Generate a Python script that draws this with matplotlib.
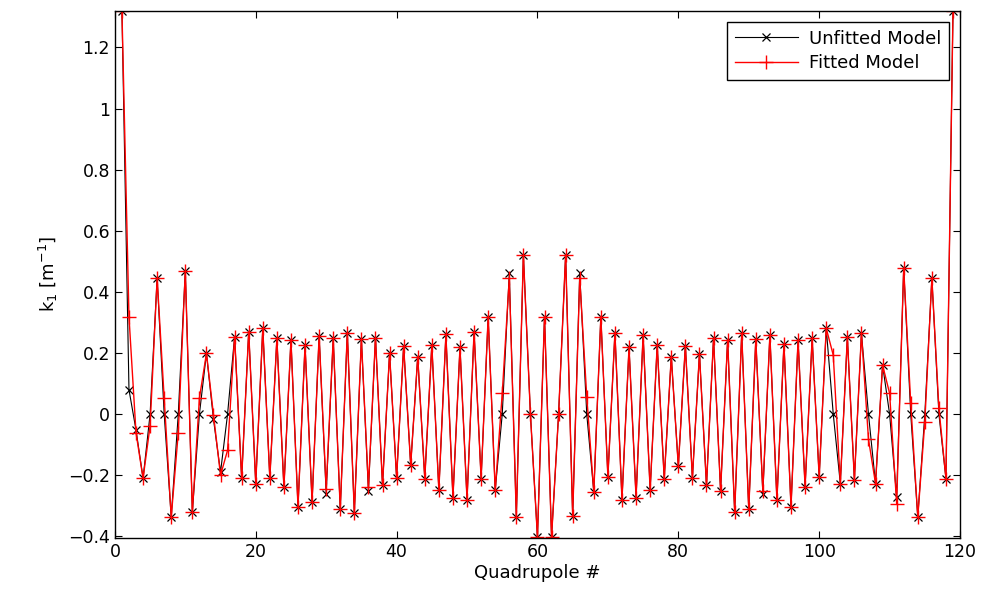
import numpy as np
import matplotlib
matplotlib.use("Agg")
import matplotlib.pyplot as plt

quad = np.arange(1, 120)

# unfitted model k1 values, quadrupoles 1..119
k1_unfitted = [
    1.32, 0.08, -0.052, -0.21, 0.0, 0.445, 0.0, -0.337, 0.0, 0.469,
    -0.32, 0.0, 0.199, -0.017, -0.19, 0.0, 0.254, -0.21, 0.27, -0.227,
    0.281, -0.21, 0.248, -0.24, 0.243, -0.304, 0.226, -0.287, 0.257, -0.26,
    0.248, -0.312, 0.267, -0.323, 0.245, -0.251, 0.25, -0.233, 0.199, -0.208,
    0.223, -0.167, 0.188, -0.211, 0.226, -0.249, 0.261, -0.273, 0.219, -0.28,
    0.27, -0.211, 0.319, -0.249, 0.0, 0.461, -0.337, 0.521, 0.0, -0.402,
    0.319, -0.402, 0.0, 0.521, -0.334, 0.461, 0.0, -0.255, 0.319, -0.205,
    0.267, -0.28, 0.219, -0.273, 0.259, -0.249, 0.226, -0.211, 0.188, -0.17,
    0.223, -0.208, 0.197, -0.233, 0.248, -0.251, 0.243, -0.32, 0.264, -0.312,
    0.245, -0.26, 0.259, -0.282, 0.23, -0.304, 0.243, -0.238, 0.248, -0.206,
    0.281, 0.0, -0.227, 0.251, -0.214, 0.264, 0.0, -0.227, 0.161, 0.0,
    -0.271, 0.478, 0.0, -0.337, 0.0, 0.445, 0.0, -0.211, 1.318,
]

# fitted model k1 values, quadrupoles 1..119
k1_fitted = [
    1.32, 0.319, -0.061, -0.21, -0.038, 0.445, 0.052, -0.337, -0.061, 0.469,
    -0.32, 0.052, 0.199, -0.002, -0.2, -0.118, 0.254, -0.21, 0.27, -0.227,
    0.281, -0.21, 0.248, -0.24, 0.243, -0.304, 0.226, -0.287, 0.257, -0.244,
    0.248, -0.312, 0.267, -0.323, 0.245, -0.238, 0.25, -0.233, 0.199, -0.208,
    0.223, -0.167, 0.188, -0.211, 0.226, -0.249, 0.261, -0.273, 0.219, -0.28,
    0.27, -0.211, 0.319, -0.249, 0.068, 0.445, -0.337, 0.521, 0.0, -0.402,
    0.319, -0.402, 0.0, 0.521, -0.334, 0.445, 0.057, -0.255, 0.319, -0.205,
    0.267, -0.28, 0.219, -0.273, 0.259, -0.249, 0.226, -0.211, 0.188, -0.17,
    0.223, -0.208, 0.197, -0.233, 0.248, -0.251, 0.243, -0.32, 0.264, -0.312,
    0.245, -0.25, 0.259, -0.282, 0.23, -0.304, 0.243, -0.238, 0.248, -0.206,
    0.281, 0.193, -0.227, 0.251, -0.214, 0.264, -0.082, -0.227, 0.161, 0.068,
    -0.293, 0.478, 0.035, -0.337, -0.025, 0.445, 0.019, -0.211, 1.318,
]

yticks = [-0.4, -0.2, 0, 0.2, 0.4, 0.6, 0.8, 1, 1.2]
xticks = [0, 20, 40, 60, 80, 100, 120]

plt.rcParams["font.family"] = "DejaVu Sans"

fig = plt.figure(figsize=(9.99, 5.99), dpi=100)
ax = fig.add_axes([0.115, 0.102, 0.846, 0.880])

ax.plot(quad, k1_unfitted, color="black", lw=0.8, marker="x", ms=6, mew=0.9,
        label="Unfitted Model")
ax.plot(quad, k1_fitted, color="red", lw=1.0, marker="+", ms=10.5, mew=1.0,
        label="Fitted Model")

ax.set_xlim(0, 120)
ax.set_ylim(-0.405, 1.32)
ax.set_xticks(xticks)
ax.set_yticks(yticks)
ax.set_yticklabels([f"{v:g}".replace("-", "\u2212") for v in yticks])
ax.tick_params(direction="in", length=5, top=True, right=True, labelsize=12.5)
for s in ax.spines.values():
    s.set_linewidth(1.0)

ax.set_xlabel("Quadrupole #", fontsize=13, labelpad=2)
ax.set_ylabel(r"k$_1$ [m$^{-1}$]", fontsize=13, labelpad=6)

leg = ax.legend(loc="upper right", fontsize=13, numpoints=1, handlelength=3.5,
                fancybox=False, framealpha=1, edgecolor="black",
                borderaxespad=0.6, borderpad=0.45, labelspacing=0.35,
                handletextpad=0.6)
leg.get_frame().set_linewidth(1.0)

fig.savefig("out.png", dpi=100)
